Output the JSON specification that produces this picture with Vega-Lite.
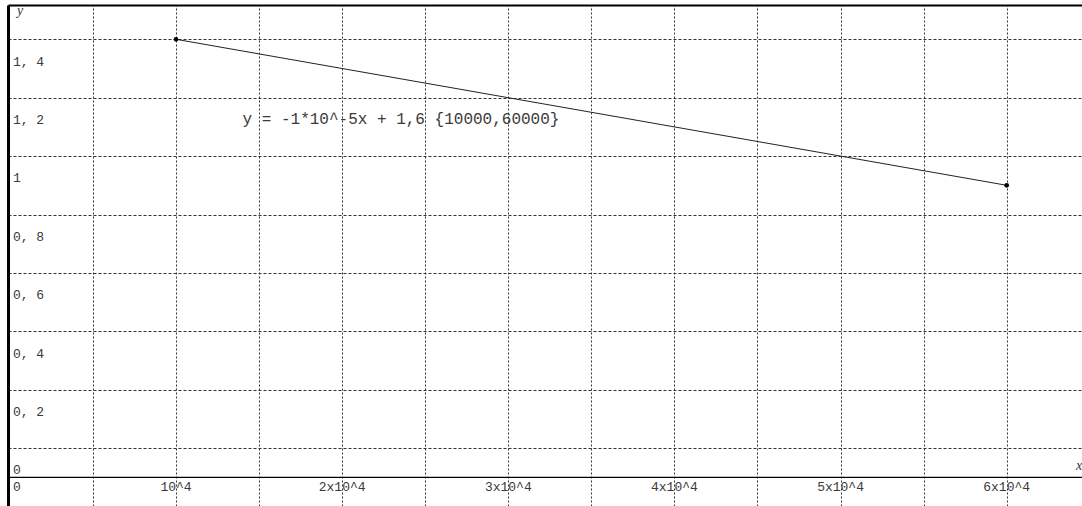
{
  "$schema": "https://vega.github.io/schema/vega-lite/v6.json",
  "width": 1074,
  "height": 501,
  "autosize": {"type": "none"},
  "padding": {"left": 8, "top": 5, "right": 0, "bottom": 0},
  "background": "white",
  "config": {
    "view": {"stroke": null},
    "text": {"font": "Liberation Mono", "fontSize": 13, "fill": "#3a3a3a"}
  },
  "datasets": {
    "segment": [
      {"x": 10000, "y": 1.5},
      {"x": 60000, "y": 1.0}
    ],
    "ylabels": [
      {"v": 0, "t": "0"},
      {"v": 0.2, "t": "0, 2"},
      {"v": 0.4, "t": "0, 4"},
      {"v": 0.6, "t": "0, 6"},
      {"v": 0.8, "t": "0, 8"},
      {"v": 1.0, "t": "1"},
      {"v": 1.2, "t": "1, 2"},
      {"v": 1.4, "t": "1, 4"}
    ],
    "xlabels": [
      {"v": 10000, "t": "10^4"},
      {"v": 20000, "t": "2x10^4"},
      {"v": 30000, "t": "3x10^4"},
      {"v": 40000, "t": "4x10^4"},
      {"v": 50000, "t": "5x10^4"},
      {"v": 60000, "t": "6x10^4"}
    ],
    "formula": [
      {"x": 23540, "y": 1.2, "t": "y = -1*10^-5x + 1,6 {10000,60000}"}
    ]
  },
  "layer": [
    {
      "data": {"name": "segment"},
      "mark": {"type": "line", "color": "#222222", "strokeWidth": 1},
      "encoding": {
        "x": {
          "field": "x",
          "type": "quantitative",
          "scale": {"domain": [-114, 64534], "nice": false, "zero": false},
          "axis": {
            "orient": "top",
            "title": null,
            "labels": false,
            "ticks": false,
            "domain": true,
            "domainColor": "#000000",
            "domainWidth": 2,
            "grid": true,
            "gridColor": "#333333",
            "gridDash": [2, 2],
            "gridWidth": 1,
            "gridOpacity": 1,
            "values": [5000, 10000, 15000, 20000, 25000, 30000, 35000, 40000, 45000, 50000, 55000, 60000]
          }
        },
        "y": {
          "field": "y",
          "type": "quantitative",
          "scale": {"domain": [-0.0983, 1.6175], "nice": false, "zero": false},
          "axis": {
            "orient": "left",
            "title": null,
            "labels": false,
            "ticks": false,
            "domain": true,
            "domainColor": "#000000",
            "domainWidth": 3,
            "grid": true,
            "gridColor": "#333333",
            "gridDash": [3, 2],
            "gridWidth": 1,
            "gridOpacity": 1,
            "values": [0.1, 0.2, 0.3, 0.4, 0.5, 0.6, 0.7, 0.8, 0.9, 1.0, 1.1, 1.2, 1.3, 1.4, 1.5, 1.6]
          }
        }
      }
    },
    {
      "data": {"values": [{"y": 0}]},
      "mark": {"type": "rule", "color": "#000000", "strokeWidth": 1.2},
      "encoding": {"y": {"field": "y", "type": "quantitative"}}
    },
    {
      "data": {"name": "segment"},
      "mark": {"type": "point", "filled": true, "color": "#000000", "size": 22, "opacity": 1},
      "encoding": {
        "x": {"field": "x", "type": "quantitative"},
        "y": {"field": "y", "type": "quantitative"}
      }
    },
    {
      "data": {"name": "ylabels"},
      "mark": {"type": "text", "align": "left", "baseline": "alphabetic", "dx": 3, "dy": -3},
      "encoding": {
        "x": {"datum": 0, "type": "quantitative"},
        "y": {"field": "v", "type": "quantitative"},
        "text": {"field": "t"}
      }
    },
    {
      "data": {"values": [{"v": 0, "t": "0"}]},
      "mark": {"type": "text", "align": "left", "baseline": "alphabetic", "dx": 3, "dy": 14},
      "encoding": {
        "x": {"field": "v", "type": "quantitative"},
        "y": {"datum": 0, "type": "quantitative"},
        "text": {"field": "t"}
      }
    },
    {
      "data": {"name": "xlabels"},
      "mark": {"type": "text", "align": "center", "baseline": "alphabetic", "dy": 14},
      "encoding": {
        "x": {"field": "v", "type": "quantitative"},
        "y": {"datum": 0, "type": "quantitative"},
        "text": {"field": "t"}
      }
    },
    {
      "data": {"name": "formula"},
      "mark": {"type": "text", "align": "center", "baseline": "alphabetic", "dy": -3, "fontSize": 16},
      "encoding": {
        "x": {"field": "x", "type": "quantitative"},
        "y": {"field": "y", "type": "quantitative"},
        "text": {"field": "t"}
      }
    },
    {
      "data": {"values": [{"t": "y"}]},
      "mark": {"type": "text", "align": "left", "baseline": "alphabetic", "dx": 7, "dy": 5, "font": "Liberation Serif", "fontStyle": "italic", "fontSize": 14},
      "encoding": {
        "x": {"datum": 0, "type": "quantitative"},
        "y": {"datum": 1.6, "type": "quantitative"},
        "text": {"field": "t"}
      }
    },
    {
      "data": {"values": [{"t": "x"}]},
      "mark": {"type": "text", "align": "left", "baseline": "alphabetic", "dy": -7, "font": "Liberation Serif", "fontStyle": "italic", "fontSize": 14},
      "encoding": {
        "x": {"datum": 64180, "type": "quantitative"},
        "y": {"datum": 0, "type": "quantitative"},
        "text": {"field": "t"}
      }
    }
  ]
}
